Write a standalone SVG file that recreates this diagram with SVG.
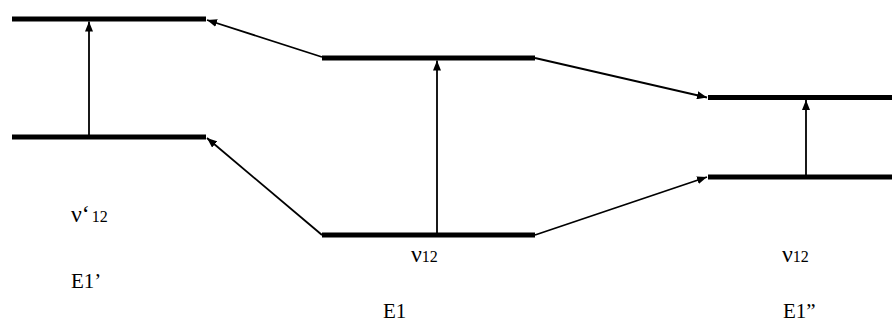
<svg xmlns="http://www.w3.org/2000/svg" width="892" height="325" viewBox="0 0 892 325">
<style>
.level{stroke:#000;stroke-width:5;fill:none}
.arr{stroke:#000;stroke-width:1.8;fill:none;marker-end:url(#ah)}
text{font-family:"Liberation Serif","Times New Roman",serif;fill:#000}
.sym{font-size:24px}
.sub{font-size:16px}
.lab{font-size:21px}
</style>
<defs>
<marker id="ah" viewBox="0 0 10 10" refX="10" refY="5" markerWidth="10" markerHeight="8" markerUnits="userSpaceOnUse" orient="auto" preserveAspectRatio="none">
<path d="M0,0 L10,5 L0,10 z" fill="#000"/>
</marker>
</defs>
<rect width="892" height="325" fill="#fff"/>
<g id="left">
<line class="level" x1="12" y1="19" x2="206" y2="19"/>
<line class="level" x1="12" y1="137" x2="206" y2="137"/>
<text x="71" y="222"><tspan class="sym">ν‘</tspan><tspan class="sub" dx="2">12</tspan></text>
<text class="lab" x="71" y="288">E1’</text>
</g>
<g id="middle">
<line class="level" x1="322" y1="58" x2="535" y2="58"/>
<line class="level" x1="322" y1="235" x2="535" y2="235"/>
<text x="411" y="262"><tspan class="sym">ν</tspan><tspan class="sub">12</tspan></text>
<text class="lab" x="383" y="318">E1</text>
</g>
<g id="right">
<line class="level" x1="708" y1="97.5" x2="892" y2="97.5"/>
<line class="level" x1="708" y1="177" x2="892" y2="177"/>
<text x="782" y="262"><tspan class="sym">ν</tspan><tspan class="sub">12</tspan></text>
<text class="lab" x="783" y="318">E1”</text>
</g>
<g id="connectors">
<line class="arr" x1="89" y1="135" x2="89" y2="21.5"/>
<line class="arr" x1="437" y1="233" x2="437" y2="60.5"/>
<line class="arr" x1="806" y1="175" x2="806" y2="100"/>
<line class="arr" x1="322" y1="57" x2="207" y2="20"/>
<line class="arr" x1="322" y1="235" x2="207" y2="138"/>
<line class="arr" x1="535" y1="58" x2="707" y2="97.5"/>
<line class="arr" x1="535" y1="235" x2="707" y2="177"/>
</g>
</svg>
